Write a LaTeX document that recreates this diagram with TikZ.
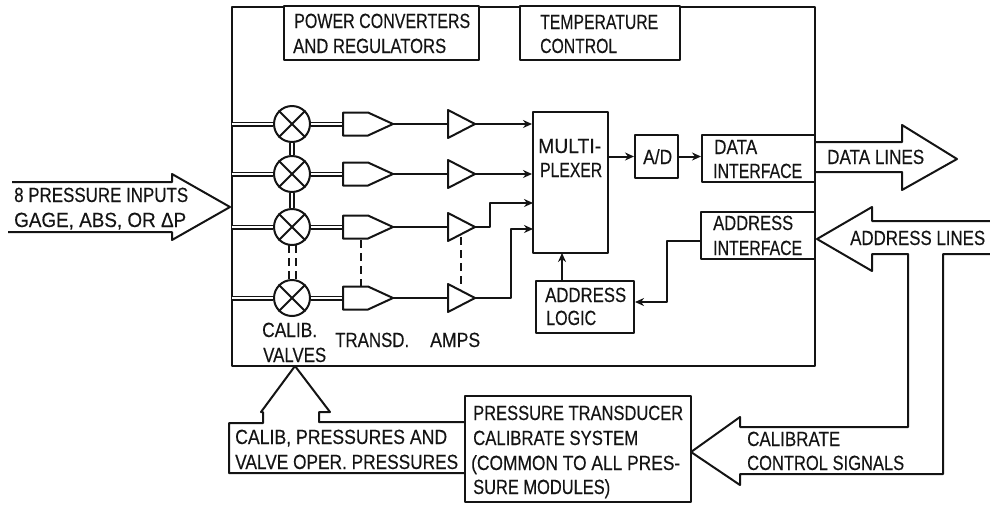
\documentclass[tikz,border=0pt]{standalone}
\usepackage{fontspec}
\setmainfont[FakeBold=0.35]{Liberation Sans}
\usetikzlibrary{arrows.meta}
\definecolor{ink}{HTML}{141414}
\newlength\fitlen
\newcommand\fitw[2]{\settowidth\fitlen{#2}\pgfmathsetmacro\fitr{#1/\fitlen}\scalebox{\fitr}[1]{#2}}
\tikzset{
  ln/.style={draw=ink,line width=2pt,line join=round},
  sig/.style={ln,-{Stealth[length=9pt,width=8pt]}},
  pipe/.style={draw=ink,line width=5pt,postaction={draw=white,line width=1.6pt}},
  box/.style={ln,fill=white,rectangle,inner sep=0pt},
  valve/.style={ln,fill=white,circle,minimum size=36pt,inner sep=0pt},
  lab/.style={anchor=base west,inner sep=0pt,text=ink,font=\fontsize{20.5}{22}\selectfont},
  dsh/.style={ln,dash pattern=on 8pt off 5pt},
}
\begin{document}
\begin{tikzpicture}[x=1pt,y=-1pt]
\useasboundingbox (0,0) rectangle (990,504);
% main enclosure
\node[box,fill=none,minimum width=583pt,minimum height=359pt] (main) at (523.5,186) {};
% top boxes
\node[box,minimum width=195pt,minimum height=54pt] (power) at (381,33) {};
\node[box,minimum width=160pt,minimum height=54pt] (temp) at (600,33) {};
% channels
\foreach \i/\y in {1/124,2/174,3/227,4/298}{
  \coordinate (in\i) at (232,\y);
  \coordinate (tin\i) at (343,\y);
  \node[valve] (v\i) at (292,\y) {};
  \draw[pipe] (in\i) -- (v\i.west);
  \draw[pipe] (v\i.east) -- (tin\i);
  \draw[ln] (v\i.45) -- (v\i.225) (v\i.135) -- (v\i.315);
  \draw[ln] (343,\y-11.5) -- (368,\y-11.5) -- (393,\y) coordinate (tout\i) -- (368,\y+11.5) -- (343,\y+11.5) -- cycle;
  \coordinate (ain\i) at (448,\y);
  \draw[ln] (448,\y-14) -- (475,\y) coordinate (aout\i) -- (448,\y+14) -- cycle;
  \draw[ln] (tout\i) -- (ain\i);
}
% valve links
\draw[pipe,line width=6.5pt,postaction={draw=white,line width=2.8pt}] (v1.south) -- (v2.north);
\draw[pipe,line width=6.5pt,postaction={draw=white,line width=2.8pt}] (v2.south) -- (v3.north);
\draw[dsh] (288.5,245) -- (288.5,280) (295.5,245) -- (295.5,280);
% column dashes
\coordinate (td1) at (361,240); \coordinate (td2) at (361,287);
\coordinate (ad1) at (461,237); \coordinate (ad2) at (461,289);
\draw[dsh] (td1) -- (td2);
\draw[dsh] (ad1) -- (ad2);
% multiplexer etc
\node[box,minimum width=75pt,minimum height=141pt] (mux) at (570.5,182.5) {};
\node[box,minimum width=43pt,minimum height=43pt] (ad) at (656.5,156.5) {};
\node[box,minimum width=113pt,minimum height=47pt] (dif) at (758.5,158.5) {};
\node[box,minimum width=114pt,minimum height=47pt] (aif) at (758,235.5) {};
\node[box,minimum width=98pt,minimum height=52pt] (alog) at (585,307) {};
\draw[sig] (aout1) -- (aout1 -| mux.west);
\draw[sig] (aout2) -- (aout2 -| mux.west);
\coordinate (m3) at (533,203); \coordinate (m4) at (533,229);
\draw[sig] (aout3) -- (490,227) -- (490,203) -- (m3);
\draw[sig] (aout4) -- (511,298) -- (511,229) -- (m4);
\draw[sig] (mux.east |- ad.west) -- (ad.west);
\draw[sig] (ad.east) -- (ad.east -| dif.west);
\draw[sig] (aif.west |- 0,241) -- (667,241) -- (667,302) -- (alog.east |- 0,302);
\draw[sig] (562,281) -- (562,253);
% big arrows
\draw[ln] (12,182) -- (172,182) -- (172,174) -- (230,207) -- (172,240) -- (172,232) -- (8,232);
\draw[ln] (815,142) -- (902,142) -- (902,125) -- (957,159) -- (902,190) -- (902,172) -- (815,172);
\draw[ln] (990,221) -- (872,221) -- (872,207) -- (817,239) -- (872,271) -- (872,254) -- (908,254) -- (908,427) -- (740,427) -- (740,417) -- (691,452) -- (740,485) -- (740,474) -- (943,474) -- (943,254) -- (990,254);
% pressure box
\draw[ln] (465,422) -- (319,422) -- (319,412) -- (330,412) -- (295,366) -- (261,412) -- (263,412) -- (263,423) -- (229,423) -- (229,473) -- (465,473);
\node[box,minimum width=226pt,minimum height=106pt] (cal) at (578,449) {};
% text
\node[lab] (t01) at (294,28) {\fitw{176}{POWER CONVERTERS}};
\node[lab] (t02) at (293,53) {\fitw{153}{AND REGULATORS}};
\node[lab] (t03) at (540,29) {\fitw{118}{TEMPERATURE}};
\node[lab] (t04) at (540,53) {\fitw{77}{CONTROL}};
\node[lab] (t05) at (538,153) {\fitw{63}{MULTI-}};
\node[lab] (t06) at (540,177) {\fitw{62}{PLEXER}};
\node[lab] (t07) at (643,164) {\fitw{29}{A/D}};
\node[lab] (t08) at (714,154) {\fitw{43}{DATA}};
\node[lab] (t09) at (713,178) {\fitw{89}{INTERFACE}};
\node[lab] (t10) at (827,164) {\fitw{97}{DATA LINES}};
\node[lab] (t11) at (713,230) {\fitw{80}{ADDRESS}};
\node[lab] (t12) at (713,255) {\fitw{89}{INTERFACE}};
\node[lab] (t13) at (850,245) {\fitw{135}{ADDRESS LINES}};
\node[lab] (t14) at (545,302) {\fitw{81}{ADDRESS}};
\node[lab] (t15) at (546,325) {\fitw{50}{LOGIC}};
\node[lab] (t16) at (262,337) {\fitw{55}{CALIB.}};
\node[lab] (t17) at (263,362) {\fitw{63}{VALVES}};
\node[lab] (t18) at (335,347) {\fitw{74}{TRANSD.}};
\node[lab] (t19) at (430,347) {\fitw{50}{AMPS}};
\node[lab] (t20) at (235,444) {\fitw{212}{CALIB, PRESSURES AND}};
\node[lab] (t21) at (235,469) {\fitw{223}{VALVE OPER. PRESSURES}};
\node[lab] (t22) at (473,420) {\fitw{210}{PRESSURE TRANSDUCER}};
\node[lab] (t23) at (473,445) {\fitw{165}{CALIBRATE SYSTEM}};
\node[lab] (t24) at (471,470) {\fitw{209}{(COMMON TO ALL PRES-}};
\node[lab] (t25) at (473,494) {\fitw{137}{SURE MODULES)}};
\node[lab] (t26) at (747,446) {\fitw{93}{CALIBRATE}};
\node[lab] (t27) at (747,470) {\fitw{157}{CONTROL SIGNALS}};
\node[lab] (t28) at (14,202) {\fitw{174}{8 PRESSURE INPUTS}};
\node[lab] (t29) at (14,227) {\fitw{172}{GAGE, ABS, OR ΔP}};
\end{tikzpicture}
\end{document}
